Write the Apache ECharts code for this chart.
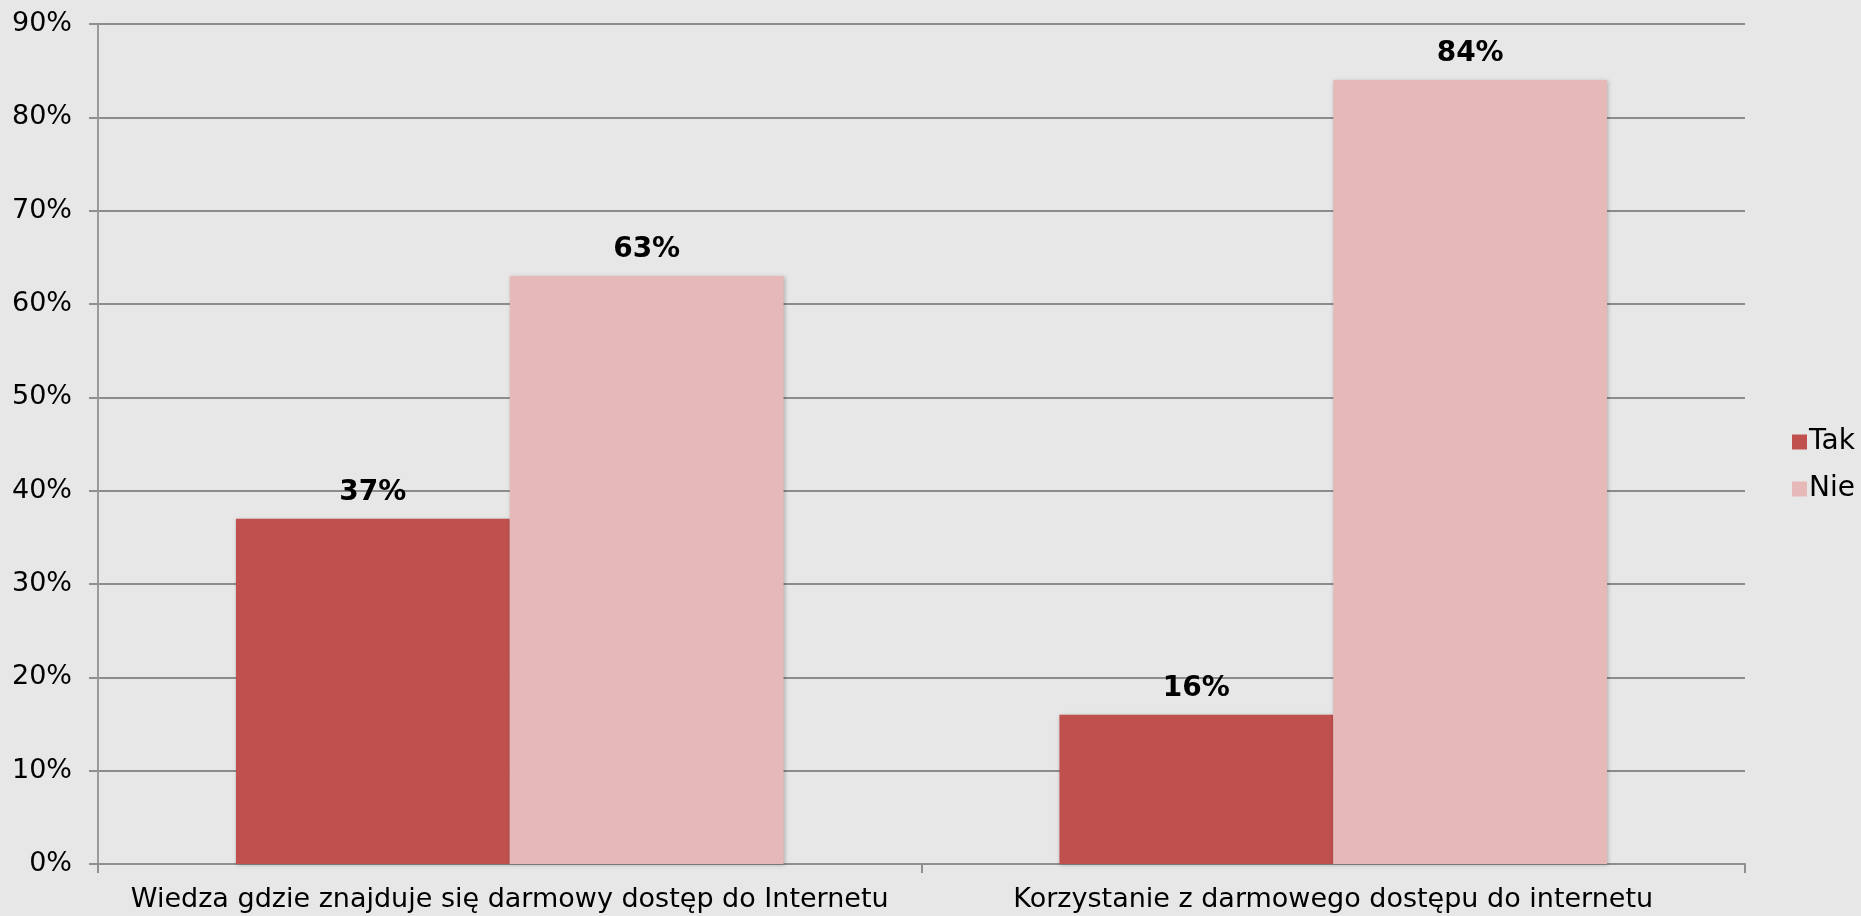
<!DOCTYPE html>
<html>
<head>
<meta charset="utf-8">
<script src="https://cdn.jsdelivr.net/npm/echarts@6/dist/echarts.min.js"></script>
<style>
  html, body { margin: 0; padding: 0; background: #e7e7e7; }
  #chart { width: 1861px; height: 916px; }
</style>
</head>
<body>
<div id="chart"></div>
<script>
var categories = ['Wiedza gdzie znajduje się darmowy dostęp do Internetu', 'Korzystanie z darmowego dostępu do internetu'];
var takValues = [37, 16];
var nieValues = [63, 84];

var myChart = echarts.init(document.getElementById('chart'));
var font = 'DejaVu Sans, Verdana, sans-serif';
var barShadow = {
    shadowBlur: 4,
    shadowColor: 'rgba(0,0,0,0.25)',
    shadowOffsetX: 1,
    shadowOffsetY: 1
};
var options = {
    backgroundColor: '#e7e7e7',
    animation: false,
    textStyle: { fontFamily: font },
    grid: { left: 98, right: 116, top: 24, bottom: 52, containLabel: false },
    legend: {
        orient: 'vertical',
        left: 1787,
        top: 423,
        itemWidth: 15,
        itemHeight: 15,
        itemGap: 19,
        icon: 'rect',
        textStyle: { fontSize: 28, color: '#000', fontFamily: font, padding: [0, 0, 0, -3] },
        data: ['Tak', 'Nie']
    },
    xAxis: {
        type: 'category',
        data: categories,
        axisLine: { lineStyle: { color: '#8f8f8f', width: 2 } },
        axisTick: { show: true, length: 9, lineStyle: { color: '#8f8f8f', width: 2 } },
        axisLabel: { interval: 0, fontSize: 27, color: '#000', margin: 22, fontFamily: font }
    },
    yAxis: {
        type: 'value',
        min: 0,
        max: 90,
        interval: 10,
        axisLine: { show: true, lineStyle: { color: '#9a9a9a', width: 2 } },
        axisTick: { show: true, length: 9, lineStyle: { color: '#8f8f8f', width: 2 } },
        splitLine: { lineStyle: { color: '#8c8c8c', width: 2 } },
        axisLabel: { fontSize: 27, color: '#000', margin: 26, fontFamily: font, formatter: '{value}%' }
    },
    series: [
        {
            name: 'Tak',
            type: 'bar',
            data: takValues,
            barGap: '0%',
            barCategoryGap: '33.5%',
            itemStyle: Object.assign({ color: '#c0504d' }, barShadow),
            label: { show: true, position: 'top', distance: 12, fontSize: 28, fontWeight: 'bold', color: '#000', fontFamily: font, formatter: '{c}%' }
        },
        {
            name: 'Nie',
            type: 'bar',
            data: nieValues,
            itemStyle: Object.assign({ color: '#e6b8b7' }, barShadow),
            label: { show: true, position: 'top', distance: 12, fontSize: 28, fontWeight: 'bold', color: '#000', fontFamily: font, formatter: '{c}%' }
        }
    ]
};
myChart.setOption(options);
</script>
</body>
</html>
